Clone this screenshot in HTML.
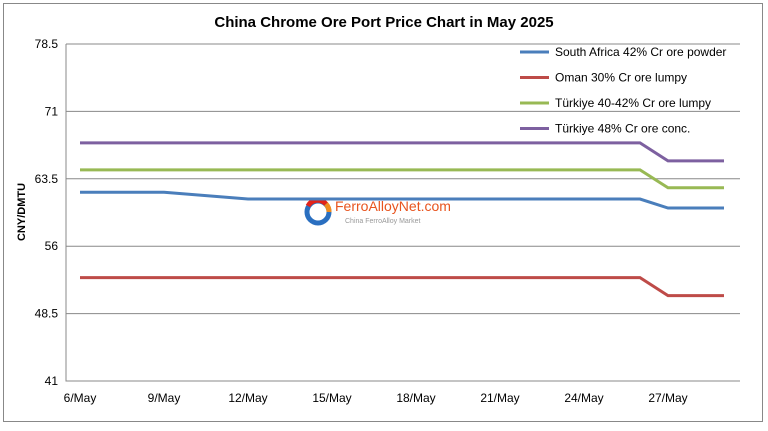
<!DOCTYPE html>
<html><head><meta charset="utf-8"><style>
body{margin:0;background:#fff;font-family:"Liberation Sans",Arial,sans-serif}
</style></head><body>
<svg id="chart" width="768" height="426" xmlns="http://www.w3.org/2000/svg" font-family="Liberation Sans, Arial, sans-serif">
<rect x="3.5" y="3.5" width="759" height="418" fill="#fff" stroke="#888"/>
<text x="384" y="27" text-anchor="middle" font-size="15" font-weight="bold">China Chrome Ore Port Price Chart in May 2025</text>
<text transform="translate(25,212) rotate(-90)" text-anchor="middle" font-size="11" font-weight="bold">CNY/DMTU</text>
<g id="grid"></g><g id="axes"></g>
<g>
<circle cx="318" cy="212" r="11" fill="none" stroke="#2a6fc0" stroke-width="5"/>
<path d="M326,204 A11,11 0 0 0 308,206" fill="none" stroke="#e2231a" stroke-width="5"/>
<path d="M326,204 A11,11 0 0 1 329,212" fill="none" stroke="#f08c1e" stroke-width="5"/>
<text x="335" y="211" font-size="14" fill="#e8541e">FerroAlloyNet.com</text>
<text x="345" y="223" font-size="7" fill="#999">China FerroAlloy Market</text>
</g>
<g id="series"></g><g id="legend"></g>
</svg>
<script>
const days=[6,7,8,9,12,13,14,15,16,19,20,21,22,23,26,27,28,29];
const southAfrica=[62,62,62,62,61.25,61.25,61.25,61.25,61.25,61.25,61.25,61.25,61.25,61.25,61.25,60.25,60.25,60.25];
const oman=[52.5,52.5,52.5,52.5,52.5,52.5,52.5,52.5,52.5,52.5,52.5,52.5,52.5,52.5,52.5,50.5,50.5,50.5];
const turkiye40=[64.5,64.5,64.5,64.5,64.5,64.5,64.5,64.5,64.5,64.5,64.5,64.5,64.5,64.5,64.5,62.5,62.5,62.5];
const turkiye48=[67.5,67.5,67.5,67.5,67.5,67.5,67.5,67.5,67.5,67.5,67.5,67.5,67.5,67.5,67.5,65.5,65.5,65.5];
const yTicks=[41,48.5,56,63.5,71,78.5];
const xTickDays=[6,9,12,15,18,21,24,27];
const seriesNames=["South Africa 42% Cr ore powder","Oman 30% Cr ore lumpy","Türkiye 40-42% Cr ore lumpy","Türkiye 48% Cr ore conc."];
const NS="http://www.w3.org/2000/svg";
const L=66,R=740,T=44,B=381;
const x=d=>80+(d-6)*28;
const y=v=>B-(v-41)*(B-T)/37.5;
function mk(p,t,a){const e=document.createElementNS(NS,t);for(const k in a)e.setAttribute(k,a[k]);document.getElementById(p).appendChild(e);return e;}
yTicks.forEach(v=>{
  if(v>41){const g=mk('grid','line',{x1:L,x2:R,y1:y(v),y2:y(v),stroke:'#888','stroke-width':1});
  
  }
  const t=mk('axes','text',{x:L-8,y:y(v)+4,'text-anchor':'end','font-size':12});t.textContent=v;
  
  
});
const ax=mk('axes','path',{d:`M${L},${T}V${B}H${R}`,fill:'none',stroke:'#888'});


xTickDays.forEach(d=>{
  const t=mk('axes','text',{x:x(d),y:B+21,'text-anchor':'middle','font-size':12});t.textContent=d+'/May';
  
  
});
const data=[southAfrica,oman,turkiye40,turkiye48];
const colors=['#4a7ebb','#be4b48','#98b954','#7d60a0'];
data.forEach((s,i)=>{
  const p=mk('series','polyline',{points:s.map((v,j)=>x(days[j])+','+y(v)).join(' '),fill:'none',stroke:colors[i],'stroke-width':3});
  
  
  const ly=52+i*25.5;
  const ll=mk('legend','line',{x1:520,x2:549,y1:ly,y2:ly,stroke:colors[i],'stroke-width':3});
  
  
  const lt=mk('legend','text',{x:555,y:ly+4,'font-size':12});lt.textContent=seriesNames[i];
  
  
});
</script>
</body></html>
